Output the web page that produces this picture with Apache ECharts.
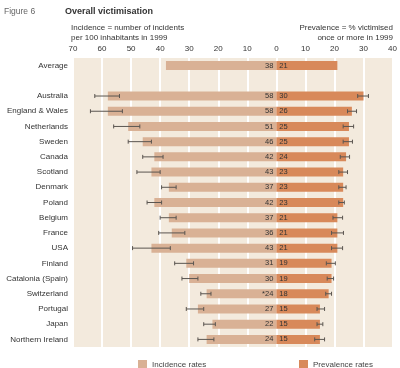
<!DOCTYPE html>
<html><head><meta charset="utf-8">
<script src="https://cdn.jsdelivr.net/npm/echarts@6/dist/echarts.min.js"></script>
<style>html,body{margin:0;padding:0;background:#fff}#c{width:400px;height:368px}</style>
</head><body><div id="c"></div>
<script>
var categories = ['Average','','Australia','England & Wales','Netherlands','Sweden','Canada','Scotland','Denmark','Poland','Belgium','France','USA','Finland','Catalonia (Spain)','Switzerland','Portugal','Japan','Northern Ireland'];
var incidence = [38,null,58,58,51,46,42,43,37,42,37,36,43,31,30,24,27,22,24];
var incidenceNote = ['','','','','','','','','','','','','','','','*','','',''];
var prevalence = [21,null,30,26,25,25,24,23,23,23,21,21,21,19,19,18,15,15,15];
var incidenceLow = [null,null,54,53,47,43,39,40,34.5,39.5,34.5,31.5,36.5,28.5,27,22.5,25,21,21.5];
var incidenceHigh = [null,null,62.5,64,56,51,46,48,39.5,44.5,40,40.5,49.5,35,32.5,26,31,25,27];
var prevalenceLow = [null,null,28,24.5,23,23,22,21.5,21.5,21.5,19.5,19,19,17.2,17.5,17,14,14,13.2];
var prevalenceHigh = [null,null,31.7,27.6,26.6,26.2,25.2,24.5,24,23.4,22.8,23.1,22.8,20.3,19.7,19,16.6,16,16.6];
var xTicks = [-70,-60,-50,-40,-30,-20,-10,0,10,20,30,40];

var FONT = 'Liberation Sans, Arial, sans-serif';
var chart = echarts.init(document.getElementById('c'));

function errItem(sign) {
  return function (params, api) {
    var i = params.dataIndex;
    var lo = api.value(1), hi = api.value(2);
    if (lo == null || isNaN(lo)) return null;
    var p1 = api.coord([sign * lo, i]);
    var p2 = api.coord([sign * hi, i]);
    var h = 2;
    var st = {stroke: '#5a5550', lineWidth: 1};
    return {type: 'group', children: [
      {type: 'line', shape: {x1: p1[0], y1: p1[1], x2: p2[0], y2: p2[1]}, style: st},
      {type: 'line', shape: {x1: p1[0], y1: p1[1] - h, x2: p1[0], y2: p1[1] + h}, style: st},
      {type: 'line', shape: {x1: p2[0], y1: p2[1] - h, x2: p2[0], y2: p2[1] + h}, style: st}
    ]};
  };
}

chart.setOption({
  animation: false,
  textStyle: {fontFamily: FONT},
  graphic: [
    {type: 'text', left: 4, top: 7, style: {text: 'Figure 6', font: '8.5px ' + FONT, fill: '#666'}},
    {type: 'text', left: 65, top: 7, style: {text: 'Overall victimisation', font: 'bold 9px ' + FONT, fill: '#333'}},
    {type: 'text', left: 71, top: 24, style: {text: 'Incidence = number of incidents', font: '8px ' + FONT, fill: '#333'}},
    {type: 'text', left: 71, top: 34, style: {text: 'per 100 inhabitants in 1999', font: '8px ' + FONT, fill: '#333'}},
    {type: 'text', right: 7, top: 24, style: {text: 'Prevalence = % victimised', font: '8px ' + FONT, fill: '#333'}},
    {type: 'text', right: 7, top: 34, style: {text: 'once or more in 1999', font: '8px ' + FONT, fill: '#333'}}
  ],
  legend: [
    {data: ['Incidence rates'], left: 133, top: 355, itemWidth: 9, itemHeight: 9, icon: 'rect', textStyle: {fontSize: 8, color: '#444', fontFamily: FONT}},
    {data: ['Prevalence rates'], left: 294, top: 355, itemWidth: 9, itemHeight: 9, icon: 'rect', textStyle: {fontSize: 8, color: '#444', fontFamily: FONT}}
  ],
  grid: {left: 73, right: 7, top: 58, bottom: 21, show: true, backgroundColor: '#f3eadd', borderWidth: 0},
  xAxis: {
    type: 'value', position: 'top', min: -70, max: 40, interval: 10,
    axisLine: {show: false}, axisTick: {show: false},
    axisLabel: {formatter: function (v) { return Math.abs(v); }, fontSize: 8, color: '#333', margin: 5, fontFamily: FONT},
    splitLine: {show: true, lineStyle: {color: '#ffffff', width: 2}}
  },
  yAxis: {
    type: 'category', data: categories, inverse: true,
    axisLine: {show: false}, axisTick: {show: false},
    axisLabel: {fontSize: 8, color: '#333', margin: 5, fontFamily: FONT}
  },
  series: [
    {name: 'Incidence rates', type: 'bar', barWidth: 9, barGap: '-100%',
     data: incidence.map(function (v) { return v == null ? null : -v; }),
     itemStyle: {color: '#d9b195'},
     label: {show: true, position: 'insideRight', distance: 3, fontSize: 7.5, color: '#333', fontFamily: FONT,
       formatter: function (p) { return incidenceNote[p.dataIndex] + Math.abs(p.value); }}},
    {name: 'Prevalence rates', type: 'bar', barWidth: 9, barGap: '-100%',
     data: prevalence,
     itemStyle: {color: '#d8895a'},
     label: {show: true, position: 'insideLeft', distance: 3, fontSize: 7.5, color: '#333', fontFamily: FONT}},
    {type: 'custom', renderItem: errItem(-1), z: 5,
     data: categories.map(function (c, i) { return [i, incidenceLow[i], incidenceHigh[i]]; }),
     encode: {x: [1, 2], y: 0}},
    {type: 'custom', renderItem: errItem(1), z: 5,
     data: categories.map(function (c, i) { return [i, prevalenceLow[i], prevalenceHigh[i]]; }),
     encode: {x: [1, 2], y: 0}}
  ]
});
</script></body></html>
